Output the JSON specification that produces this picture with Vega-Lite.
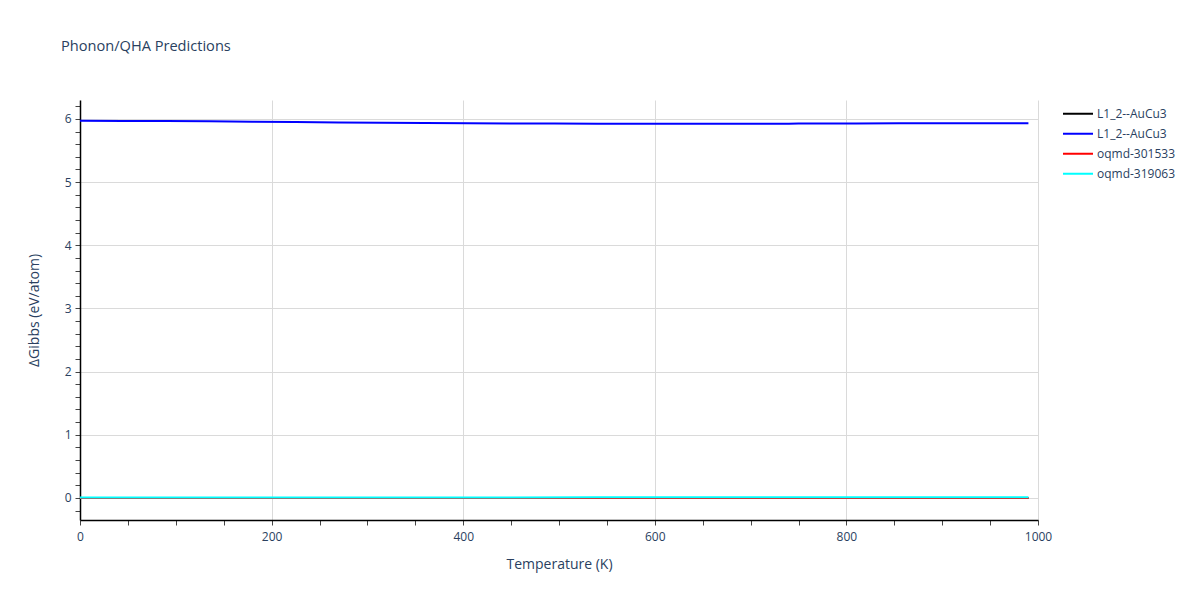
{
  "$schema": "https://vega.github.io/schema/vega-lite/v6.json",
  "autosize": {"type": "none"},
  "width": 958,
  "height": 420,
  "padding": {"left": 80, "top": 100, "right": 162, "bottom": 80},
  "background": "white",
  "config": {
    "font": "Open Sans",
    "view": {"stroke": null},
    "axis": {"labelColor": "#2a3f5f", "titleColor": "#2a3f5f", "labelFont": "Open Sans", "titleFont": "Open Sans"}
  },
  "title": {
    "text": "Phonon/QHA Predictions",
    "anchor": "start",
    "frame": "group",
    "dx": -19,
    "offset": 46,
    "fontSize": 14.6,
    "fontWeight": "normal",
    "color": "#2a3f5f",
    "font": "Open Sans"
  },
  "datasets": {
    "curves": [
      {"T": 0, "G": 0.000, "series": "L1_2--AuCu3 (1)"},
      {"T": 90, "G": 0.000, "series": "L1_2--AuCu3 (1)"},
      {"T": 180, "G": 0.000, "series": "L1_2--AuCu3 (1)"},
      {"T": 270, "G": 0.000, "series": "L1_2--AuCu3 (1)"},
      {"T": 360, "G": 0.000, "series": "L1_2--AuCu3 (1)"},
      {"T": 450, "G": 0.000, "series": "L1_2--AuCu3 (1)"},
      {"T": 540, "G": 0.000, "series": "L1_2--AuCu3 (1)"},
      {"T": 630, "G": 0.000, "series": "L1_2--AuCu3 (1)"},
      {"T": 720, "G": 0.000, "series": "L1_2--AuCu3 (1)"},
      {"T": 810, "G": 0.000, "series": "L1_2--AuCu3 (1)"},
      {"T": 900, "G": 0.000, "series": "L1_2--AuCu3 (1)"},
      {"T": 990, "G": 0.000, "series": "L1_2--AuCu3 (1)"},
      {"T": 0, "G": 5.970, "series": "L1_2--AuCu3 (2)"},
      {"T": 45, "G": 5.969, "series": "L1_2--AuCu3 (2)"},
      {"T": 90, "G": 5.967, "series": "L1_2--AuCu3 (2)"},
      {"T": 135, "G": 5.963, "series": "L1_2--AuCu3 (2)"},
      {"T": 180, "G": 5.957, "series": "L1_2--AuCu3 (2)"},
      {"T": 225, "G": 5.951, "series": "L1_2--AuCu3 (2)"},
      {"T": 270, "G": 5.945, "series": "L1_2--AuCu3 (2)"},
      {"T": 315, "G": 5.939, "series": "L1_2--AuCu3 (2)"},
      {"T": 360, "G": 5.934, "series": "L1_2--AuCu3 (2)"},
      {"T": 405, "G": 5.930, "series": "L1_2--AuCu3 (2)"},
      {"T": 450, "G": 5.928, "series": "L1_2--AuCu3 (2)"},
      {"T": 495, "G": 5.926, "series": "L1_2--AuCu3 (2)"},
      {"T": 540, "G": 5.925, "series": "L1_2--AuCu3 (2)"},
      {"T": 585, "G": 5.924, "series": "L1_2--AuCu3 (2)"},
      {"T": 630, "G": 5.924, "series": "L1_2--AuCu3 (2)"},
      {"T": 675, "G": 5.923, "series": "L1_2--AuCu3 (2)"},
      {"T": 720, "G": 5.923, "series": "L1_2--AuCu3 (2)"},
      {"T": 740, "G": 5.923, "series": "L1_2--AuCu3 (2)"},
      {"T": 750, "G": 5.928, "series": "L1_2--AuCu3 (2)"},
      {"T": 810, "G": 5.929, "series": "L1_2--AuCu3 (2)"},
      {"T": 855, "G": 5.930, "series": "L1_2--AuCu3 (2)"},
      {"T": 900, "G": 5.931, "series": "L1_2--AuCu3 (2)"},
      {"T": 945, "G": 5.931, "series": "L1_2--AuCu3 (2)"},
      {"T": 990, "G": 5.932, "series": "L1_2--AuCu3 (2)"},
      {"T": 0, "G": -0.001, "series": "oqmd-301533"},
      {"T": 90, "G": -0.001, "series": "oqmd-301533"},
      {"T": 180, "G": -0.001, "series": "oqmd-301533"},
      {"T": 270, "G": -0.001, "series": "oqmd-301533"},
      {"T": 360, "G": -0.001, "series": "oqmd-301533"},
      {"T": 450, "G": -0.001, "series": "oqmd-301533"},
      {"T": 540, "G": -0.001, "series": "oqmd-301533"},
      {"T": 630, "G": -0.001, "series": "oqmd-301533"},
      {"T": 720, "G": -0.001, "series": "oqmd-301533"},
      {"T": 810, "G": -0.001, "series": "oqmd-301533"},
      {"T": 900, "G": -0.001, "series": "oqmd-301533"},
      {"T": 990, "G": -0.001, "series": "oqmd-301533"},
      {"T": 0, "G": 0.008, "series": "oqmd-319063"},
      {"T": 90, "G": 0.008, "series": "oqmd-319063"},
      {"T": 180, "G": 0.008, "series": "oqmd-319063"},
      {"T": 270, "G": 0.008, "series": "oqmd-319063"},
      {"T": 360, "G": 0.008, "series": "oqmd-319063"},
      {"T": 450, "G": 0.008, "series": "oqmd-319063"},
      {"T": 540, "G": 0.009, "series": "oqmd-319063"},
      {"T": 630, "G": 0.009, "series": "oqmd-319063"},
      {"T": 720, "G": 0.009, "series": "oqmd-319063"},
      {"T": 810, "G": 0.009, "series": "oqmd-319063"},
      {"T": 900, "G": 0.009, "series": "oqmd-319063"},
      {"T": 990, "G": 0.009, "series": "oqmd-319063"}
    ]
  },
  "data": {"name": "curves"},
  "layer": [
    {
      "mark": {"type": "line", "opacity": 0},
      "encoding": {
        "x": {
          "field": "T", "type": "quantitative",
          "scale": {"domain": [0, 1000], "nice": false, "zero": false},
          "axis": {"orient": "bottom", "values": [50, 100, 150, 250, 300, 350, 450, 500, 550, 650, 700, 750, 850, 900, 950], "labels": false, "grid": false, "domain": false, "ticks": true, "tickSize": 5, "tickColor": "#444", "title": null}
        },
        "y": {
          "field": "G", "type": "quantitative",
          "scale": {"domain": [-0.35, 6.3], "nice": false, "zero": false},
          "axis": {"values": [-0.2, 0.2, 0.4, 0.6, 0.8, 1.2, 1.4, 1.6, 1.8, 2.2, 2.4, 2.6, 2.8, 3.2, 3.4, 3.6, 3.8, 4.2, 4.4, 4.6, 4.8, 5.2, 5.4, 5.6, 5.8, 6.2], "labels": false, "grid": false, "domain": false, "ticks": true, "tickSize": 5, "tickColor": "#444", "title": null, "orient": "left"}
        }
      }
    },
    {
      "mark": {"type": "line", "strokeWidth": 2, "clip": true},
      "encoding": {
        "x": {
          "field": "T", "type": "quantitative",
          "axis": {"orient": "bottom", "values": [0, 200, 400, 600, 800, 1000], "format": "d", "title": "Temperature (K)", "titleFontSize": 14, "titleFontWeight": "normal", "titlePadding": 15, "labelFontSize": 12, "labelPadding": 6, "tickSize": 5, "tickColor": "#444", "domainColor": "#000", "domainWidth": 1.5, "grid": true, "gridColor": "#dadada", "gridWidth": 1, "labelFlush": false}
        },
        "y": {
          "field": "G", "type": "quantitative",
          "axis": {"values": [0, 1, 2, 3, 4, 5, 6], "title": "ΔGibbs (eV/atom)", "titleFontSize": 14, "titleFontWeight": "normal", "titlePadding": 23, "labelFontSize": 12, "labelPadding": 4, "tickSize": 5, "tickColor": "#444", "domainColor": "#000", "domainWidth": 1.5, "grid": true, "gridColor": "#dadada", "gridWidth": 1, "orient": "left"}
        },
        "color": {
          "field": "series", "type": "nominal",
          "scale": {"domain": ["L1_2--AuCu3 (1)", "L1_2--AuCu3 (2)", "oqmd-301533", "oqmd-319063"], "range": ["#000000", "#0000ff", "#ff0000", "#00ffff"]},
          "legend": {
            "title": null,
            "orient": "none",
            "legendX": 982,
            "legendY": 4,
            "symbolType": "stroke",
            "symbolSize": 900,
            "symbolStrokeWidth": 2,
            "labelFontSize": 12,
            "labelColor": "#2a3f5f",
            "labelFont": "Open Sans",
            "labelOffset": 3,
            "rowPadding": 0,
            "clipHeight": 19.3,
            "padding": 0,
            "labelExpr": "indexof(datum.label, 'L1_2') == 0 ? 'L1_2--AuCu3' : datum.label"
          }
        }
      }
    }
  ],
  "resolve": {"axis": {"x": "independent", "y": "independent"}}
}
